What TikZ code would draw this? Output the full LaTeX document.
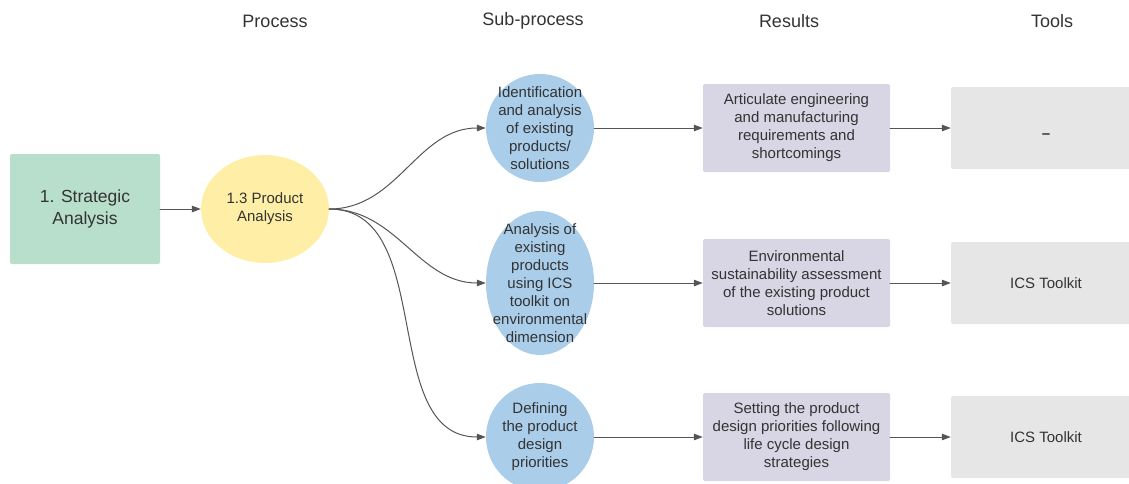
\documentclass[tikz,border=0pt]{standalone}
\usepackage{fontspec}
\setmainfont{Liberation Sans}
\usetikzlibrary{arrows.meta,shapes.geometric}
\definecolor{Gfill}{RGB}{184,223,204}
\definecolor{Yfill}{RGB}{255,239,166}
\definecolor{Bfill}{RGB}{170,205,234}
\definecolor{Pfill}{RGB}{216,213,228}
\definecolor{Tfill}{RGB}{230,230,230}
\definecolor{Tcol}{RGB}{51,51,51}
\definecolor{Acol}{RGB}{85,85,85}

\tikzset{
  txt/.style={text=Tcol,align=center,font=\fontsize{15}{18}\selectfont},
  head/.style={text=Tcol,font=\fontsize{18}{20}\selectfont},
  sub/.style={txt,ellipse,fill=Bfill,minimum width=108pt,inner xsep=-12pt,inner ysep=-14pt},
  res/.style={txt,rectangle,rounded corners=2pt,fill=Pfill,minimum width=187pt,minimum height=88pt,inner sep=0pt},
  tool/.style={txt,rectangle,rounded corners=2pt,fill=Tfill,minimum width=190pt,minimum height=82pt,inner sep=0pt},
  arr/.style={draw=Acol,line width=1pt,-{Triangle[length=9pt,width=6.5pt]}},
}

\begin{document}
\begin{tikzpicture}[x=1pt,y=-1pt,line cap=round,line join=round]
\path[use as bounding box] (0,0) rectangle (1129,483);
\clip (0,0) rectangle (1129,483);
% column heads
\node[head] (hproc) at (275,21) {Process};
\node[head] (hsub) at (533,21) {Sub-process};
\node[head] (hres) at (789,21) {Results};
\node[head] (htool) at (1052,21) {Tools};
% process
\node[txt,rectangle,rounded corners=2pt,fill=Gfill,minimum width=150pt,minimum height=110pt,font=\fontsize{17.5}{22}\selectfont] (strat) at (85,209) {1. Strategic\\Analysis};
\node[txt,ellipse,fill=Yfill,minimum width=128pt,minimum height=108pt,inner sep=0pt] (prod) at (265,209) {1.3 Product\\Analysis};
% sub-processes
\node[sub,minimum height=108pt] (ident) at (540,128) {Identification\\and analysis\\of existing\\products/\\solutions};
\node[sub,minimum height=144pt] (ics) at (540,283) {Analysis of\\existing\\products\\using ICS\\toolkit on\\environmental\\dimension};
\node[sub,minimum height=108pt] (prio) at (540,437) {Defining\\the product\\design\\priorities};
% results
\node[res] (artic) at (796.5,128) {Articulate engineering\\and manufacturing\\requirements and\\shortcomings};
\node[res] (env) at (796.5,283) {Environmental\\sustainability assessment\\of the existing product\\solutions};
\node[res] (set) at (796.5,437) {Setting the product\\design priorities following\\life cycle design\\strategies};
% tools
\node[tool] (none) at (1046,128) {\raisebox{-10pt}[0pt][0pt]{\textbf{--}}};
\node[tool] (tk1) at (1046,283) {ICS Toolkit};
\node[tool] (tk2) at (1046,437) {ICS Toolkit};
% connectors
\draw[arr] (strat.east) -- (prod.west);
\draw[arr] (prod.east) to[out=0,in=180] (ident.west);
\draw[arr] (prod.east) to[out=0,in=180] (ics.west);
\draw[arr] (prod.east) to[out=0,in=180] (prio.west);
\draw[arr] (ident.east) -- (artic.west);
\draw[arr] (ics.east) -- (env.west);
\draw[arr] (prio.east) -- (set.west);
\draw[arr] (artic.east) -- (none.west);
\draw[arr] (env.east) -- (tk1.west);
\draw[arr] (set.east) -- (tk2.west);
\end{tikzpicture}
\end{document}
